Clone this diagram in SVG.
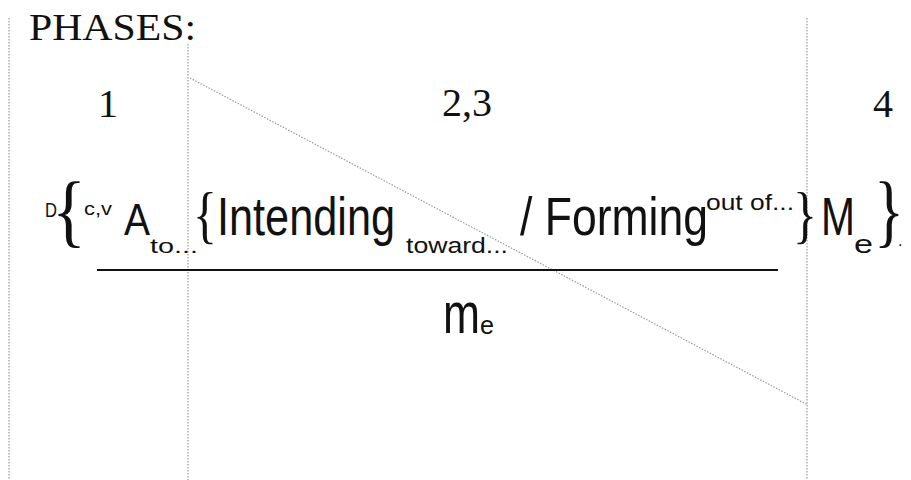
<svg xmlns="http://www.w3.org/2000/svg" width="911" height="480" viewBox="0 0 911 480">
<style>
.ser{font-family:"Liberation Serif","Times New Roman",serif;fill:#111}
.sans{font-family:"Liberation Sans",Arial,sans-serif;fill:#111}
.br{font-family:"Liberation Serif","Times New Roman",serif;fill:#111}
.dot{stroke:#999;stroke-width:1.2;stroke-dasharray:1.5 1.5;fill:none}
</style>
<rect width="911" height="480" fill="#fff"/>
<g id="guides">
<line class="dot" x1="9" y1="18" x2="9" y2="480"/>
<line class="dot" x1="188" y1="44" x2="188" y2="480"/>
<line class="dot" x1="807" y1="18" x2="807" y2="480"/>
<line class="dot" x1="190" y1="78" x2="808" y2="405"/>
</g>
<g id="phases">
<text class="ser" x="29" y="40" font-size="38" textLength="167" lengthAdjust="spacingAndGlyphs">PHASES:</text>
<text class="ser" x="108" y="117" font-size="40" text-anchor="middle">1</text>
<text class="ser" x="467" y="116" font-size="40" text-anchor="middle">2,3</text>
<text class="ser" x="883" y="117" font-size="40" text-anchor="middle">4</text>
</g>
<g id="formula">
<text class="sans" x="45" y="217" font-size="21" textLength="12" lengthAdjust="spacingAndGlyphs">D</text>
<text class="br" x="52" y="237" font-size="80" textLength="34" lengthAdjust="spacingAndGlyphs">{</text>
<text class="sans" x="84" y="215" font-size="19" textLength="28" lengthAdjust="spacingAndGlyphs">c,v</text>
<text class="sans" x="124" y="235" font-size="44" textLength="26" lengthAdjust="spacingAndGlyphs">A</text>
<text class="sans" x="150" y="253" font-size="21" textLength="48" lengthAdjust="spacingAndGlyphs">to...</text>
<text class="br" x="193" y="236" font-size="63" textLength="24" lengthAdjust="spacingAndGlyphs">{</text>
<text class="sans" x="217" y="235" font-size="53" textLength="178" lengthAdjust="spacingAndGlyphs">Intending</text>
<text class="sans" x="406" y="253" font-size="22" textLength="102" lengthAdjust="spacingAndGlyphs">toward...</text>
<text class="sans" x="520" y="235" font-size="53" textLength="188" lengthAdjust="spacingAndGlyphs">/ Forming</text>
<text class="sans" x="706" y="210" font-size="22" textLength="88" lengthAdjust="spacingAndGlyphs">out of...</text>
<text class="br" x="793" y="236" font-size="63" textLength="24" lengthAdjust="spacingAndGlyphs">}</text>
<text class="sans" x="821" y="235" font-size="53" textLength="34" lengthAdjust="spacingAndGlyphs">M</text>
<text class="sans" x="854" y="253" font-size="25" textLength="19" lengthAdjust="spacingAndGlyphs">e</text>
<text class="br" x="874" y="237" font-size="80" textLength="30" lengthAdjust="spacingAndGlyphs">}</text>
<text class="sans" x="898" y="246" font-size="16">.</text>
</g>
<g id="fraction">
<line x1="97" y1="270" x2="778" y2="270" stroke="#111" stroke-width="2"/>
<text class="sans" x="443" y="333" font-size="57" textLength="37" lengthAdjust="spacingAndGlyphs">m</text>
<text class="sans" x="480" y="334" font-size="25" textLength="14" lengthAdjust="spacingAndGlyphs">e</text>
</g>
</svg>
